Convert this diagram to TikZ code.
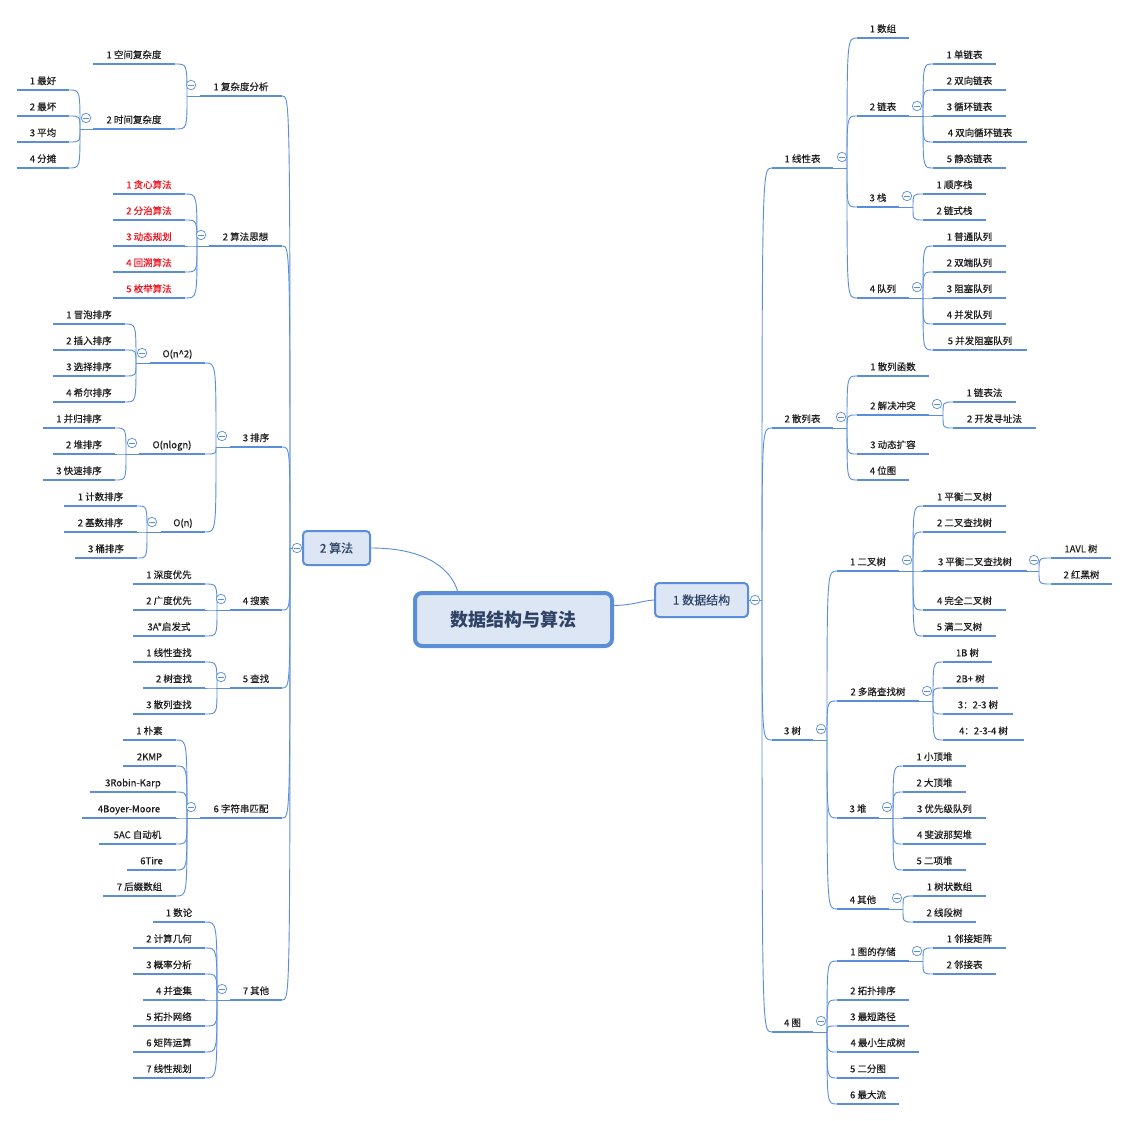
\documentclass[tikz,border=0pt]{standalone}
\usepackage{fontspec}
\setmainfont{Noto Sans CJK SC}
\newfontfamily\lblfont{Noto Sans CJK SC}[FakeBold=0.3]
\definecolor{lc}{HTML}{5A8ED8}
\definecolor{boxfill}{HTML}{DCE6F4}
\definecolor{boxtext}{HTML}{2F4366}
\definecolor{redt}{HTML}{F0141E}
\definecolor{txt}{HTML}{1E1E1E}
\tikzset{
 lbl/.style={inner xsep=0pt, inner ysep=3.5pt, text height=7.5pt, text depth=2pt, font=\lblfont\fontsize{9.5}{11}\selectfont, text=txt},
 redlbl/.style={text=redt},
 ul/.style={draw=lc, line width=2.8pt},
 cn/.style={draw=lc, line width=0.9pt},
 mc/.style={circle, draw=lc, fill=white, line width=0.7pt, minimum size=9.5pt, inner sep=0pt,
   path picture={\draw[lc,line width=0.7pt] ([xshift=-2.6pt]path picture bounding box.center) -- ([xshift=2.6pt]path picture bounding box.center);}},
 topic/.style={draw=lc, fill=boxfill, rounded corners=4pt, line width=2pt, text=boxtext, font=\lblfont\fontsize{12}{14}\selectfont, inner sep=0pt},
 central/.style={draw=lc, fill=boxfill, rounded corners=7pt, line width=4pt, text=boxtext, font=\fontsize{18}{20}\selectfont\bfseries, inner sep=0pt},
}
% node with underline: [style]{name}{x1}{x2}{y}{text}
\newcommand\mmn[6][]{\node[lbl,#1,minimum width={(#4)-(#3)},anchor=south] (#2) at ({((#3)+(#4))/2},#5) {#6};
 \draw[ul] (#2.south west) -- (#2.south east);}
% connectors from fork to child (right side / left side)
\newcommand\fr[2]{\draw[cn] (#1) .. controls (#1 |- #2.south west) .. (#2.south west);}
\newcommand\fl[2]{\draw[cn] (#1) .. controls (#1 |- #2.south east) .. (#2.south east);}
\begin{document}
\begin{tikzpicture}[x=1pt,y=-1pt]
\fill[white] (0,0) rectangle (1130,1121);
\useasboundingbox (0,0) rectangle (1130,1121);

% ---------------- central ----------------
\node[central,minimum width=197,minimum height=53] (cen) at (513.5,619.5) {数据结构与算法};
\node[topic,minimum width=67,minimum height=34] (alg) at (336.5,548) {2 算法};
\node[topic,minimum width=93,minimum height=34] (ds) at (701.5,600) {1 数据结构};
\draw[cn] (alg.east) .. controls (430,548) and (452,572) .. ([xshift=-56pt]cen.north);
\draw[cn] ([yshift=14pt]cen.east) .. controls (635,605) and (640,601) .. (ds.west);

% ---------------- left: 2 算法 ----------------
\coordinate (algf) at (290,548);
\draw[cn] (alg.west) -- (algf);
\mmn{a1}{200}{282}{96}{1 复杂度分析}
\mmn{a2}{209}{282}{246}{2 算法思想}
\mmn{a3}{230}{282}{447}{3 排序}
\mmn{a4}{230}{282}{610}{4 搜索}
\mmn{a5}{230}{282}{688}{5 查找}
\mmn{a6}{200}{282}{818}{6 字符串匹配}
\mmn{a7}{230}{282}{1000}{7 其他}
\foreach \c in {a1,a2,a3,a4,a5,a6,a7} {\fl{algf}{\c}}

% a1
\coordinate (a1f) at (187,96);
\draw[cn] (a1.south west) -- (a1f);
\mmn{a11}{93}{175}{64}{1 空间复杂度}
\mmn{a12}{93}{175}{129}{2 时间复杂度}
\fl{a1f}{a11}\fl{a1f}{a12}
\coordinate (a12f) at (80,129);
\draw[cn] (a12.south west) -- (a12f);
\mmn{a121}{17}{69}{90}{1 最好}
\mmn{a122}{17}{69}{116}{2 最坏}
\mmn{a123}{17}{69}{142}{3 平均}
\mmn{a124}{17}{69}{168}{4 分摊}
\foreach \c in {a121,a122,a123,a124} {\fl{a12f}{\c}}

% a2
\coordinate (a2f) at (197,246);
\draw[cn] (a2.south west) -- (a2f);
\mmn[redlbl]{a21}{113}{185}{194}{1 贪心算法}
\mmn[redlbl]{a22}{113}{185}{220}{2 分治算法}
\mmn[redlbl]{a23}{113}{185}{246}{3 动态规划}
\mmn[redlbl]{a24}{113}{185}{272}{4 回溯算法}
\mmn[redlbl]{a25}{113}{185}{298}{5 枚举算法}
\foreach \c in {a21,a22,a23,a24,a25} {\fl{a2f}{\c}}

% a3
\coordinate (a3f) at (216,447);
\draw[cn] (a3.south west) -- (a3f);
\mmn{a31}{150}{205}{363}{O(n\textasciicircum 2)}
\mmn{a32}{139}{205}{454}{O(nlogn)}
\mmn{a33}{161}{205}{532}{O(n)}
\foreach \c in {a31,a32,a33} {\fl{a3f}{\c}}
\coordinate (a31f) at (136,363);
\draw[cn] (a31.south west) -- (a31f);
\mmn{a311}{53}{125}{324}{1 冒泡排序}
\mmn{a312}{53}{125}{350}{2 插入排序}
\mmn{a313}{53}{125}{376}{3 选择排序}
\mmn{a314}{53}{125}{402}{4 希尔排序}
\foreach \c in {a311,a312,a313,a314} {\fl{a31f}{\c}}
\coordinate (a32f) at (126,454);
\draw[cn] (a32.south west) -- (a32f);
\mmn{a321}{43}{115}{428}{1 并归排序}
\mmn{a322}{53}{115}{454}{2 堆排序}
\mmn{a323}{43}{115}{480}{3 快速排序}
\foreach \c in {a321,a322,a323} {\fl{a32f}{\c}}
\coordinate (a33f) at (147,532);
\draw[cn] (a33.south west) -- (a33f);
\mmn{a331}{64}{137}{506}{1 计数排序}
\mmn{a332}{64}{137}{532}{2 基数排序}
\mmn{a333}{75}{137}{558}{3 桶排序}
\foreach \c in {a331,a332,a333} {\fl{a33f}{\c}}

% a4
\coordinate (a4f) at (217,610);
\draw[cn] (a4.south west) -- (a4f);
\mmn{a41}{133}{205}{584}{1 深度优先}
\mmn{a42}{133}{205}{610}{2 广度优先}
\mmn{a43}{133}{205}{636}{3A*启发式}
\foreach \c in {a41,a42,a43} {\fl{a4f}{\c}}

% a5
\coordinate (a5f) at (217,688);
\draw[cn] (a5.south west) -- (a5f);
\mmn{a51}{133}{205}{662}{1 线性查找}
\mmn{a52}{143}{205}{688}{2 树查找}
\mmn{a53}{133}{205}{714}{3 散列查找}
\foreach \c in {a51,a52,a53} {\fl{a5f}{\c}}

% a6
\coordinate (a6f) at (187,818);
\draw[cn] (a6.south west) -- (a6f);
\mmn{a61}{123}{176}{740}{1 朴素}
\mmn{a62}{123}{176}{766}{2KMP}
\mmn{a63}{90}{176}{792}{3Robin-Karp}
\mmn{a64}{82}{176}{818}{4Boyer-Moore}
\mmn{a65}{99}{176}{844}{5AC 自动机}
\mmn{a66}{127}{176}{870}{6Tire}
\mmn{a67}{103}{176}{896}{7 后缀数组}
\foreach \c in {a61,a62,a63,a64,a65,a66,a67} {\fl{a6f}{\c}}

% a7
\coordinate (a7f) at (217,1000);
\draw[cn] (a7.south west) -- (a7f);
\mmn{a71}{153}{205}{922}{1 数论}
\mmn{a72}{133}{205}{948}{2 计算几何}
\mmn{a73}{133}{205}{974}{3 概率分析}
\mmn{a74}{143}{205}{1000}{4 并查集}
\mmn{a75}{133}{205}{1026}{5 拓扑网络}
\mmn{a76}{133}{205}{1052}{6 矩阵运算}
\mmn{a77}{133}{205}{1078}{7 线性规划}
\foreach \c in {a71,a72,a73,a74,a75,a76,a77} {\fl{a7f}{\c}}

% ---------------- right: 1 数据结构 ----------------
\coordinate (dsf) at (762,600);
\draw[cn] (ds.east) -- (dsf);
\mmn{b1}{772}{833}{168}{1 线性表}
\mmn{b2}{772}{833}{428}{2 散列表}
\mmn{b3}{772}{813}{740}{3 树}
\mmn{b4}{772}{813}{1032}{4 图}
\foreach \c in {b1,b2,b3,b4} {\fr{dsf}{\c}}

% b1
\coordinate (b1f) at (847,168);
\draw[cn] (b1.south east) -- (b1f);
\mmn{b11}{857}{909}{38}{1 数组}
\mmn{b12}{857}{909}{116}{2 链表}
\mmn{b13}{857}{899}{207}{3 栈}
\mmn{b14}{857}{909}{298}{4 队列}
\foreach \c in {b11,b12,b13,b14} {\fr{b1f}{\c}}
\coordinate (b12f) at (923,116);
\draw[cn] (b12.south east) -- (b12f);
\mmn{b121}{933}{996}{64}{1 单链表}
\mmn{b122}{933}{1006}{90}{2 双向链表}
\mmn{b123}{933}{1006}{116}{3 循环链表}
\mmn{b124}{933}{1027}{142}{4 双向循环链表}
\mmn{b125}{933}{1006}{168}{5 静态链表}
\foreach \c in {b121,b122,b123,b124,b125} {\fr{b12f}{\c}}
\coordinate (b13f) at (913,207);
\draw[cn] (b13.south east) -- (b13f);
\mmn{b131}{923}{986}{194}{1 顺序栈}
\mmn{b132}{923}{986}{220}{2 链式栈}
\foreach \c in {b131,b132} {\fr{b13f}{\c}}
\coordinate (b14f) at (923,298);
\draw[cn] (b14.south east) -- (b14f);
\mmn{b141}{933}{1006}{246}{1 普通队列}
\mmn{b142}{933}{1006}{272}{2 双端队列}
\mmn{b143}{933}{1006}{298}{3 阻塞队列}
\mmn{b144}{933}{1006}{324}{4 并发队列}
\mmn{b145}{933}{1027}{350}{5 并发阻塞队列}
\foreach \c in {b141,b142,b143,b144,b145} {\fr{b14f}{\c}}

% b2
\coordinate (b2f) at (847,428);
\draw[cn] (b2.south east) -- (b2f);
\mmn{b21}{857}{929}{376}{1 散列函数}
\mmn{b22}{857}{929}{415}{2 解决冲突}
\mmn{b23}{857}{929}{454}{3 动态扩容}
\mmn{b24}{857}{909}{480}{4 位图}
\foreach \c in {b21,b22,b23,b24} {\fr{b2f}{\c}}
\coordinate (b22f) at (943,415);
\draw[cn] (b22.south east) -- (b22f);
\mmn{b221}{953}{1016}{402}{1 链表法}
\mmn{b222}{953}{1036}{428}{2 开发寻址法}
\foreach \c in {b221,b222} {\fr{b22f}{\c}}

% b3
\coordinate (b3f) at (827,740);
\draw[cn] (b3.south east) -- (b3f);
\mmn{b31}{837}{899}{571}{1 二叉树}
\mmn{b32}{837}{919}{701}{2 多路查找树}
\mmn{b33}{837}{879}{818}{3 堆}
\mmn{b34}{837}{889}{909}{4 其他}
\foreach \c in {b31,b32,b33,b34} {\fr{b3f}{\c}}
\coordinate (b31f) at (913,571);
\draw[cn] (b31.south east) -- (b31f);
\mmn{b311}{923}{1006}{506}{1 平衡二叉树}
\mmn{b312}{923}{1006}{532}{2 二叉查找树}
\mmn{b313}{923}{1027}{571}{3 平衡二叉查找树}
\mmn{b314}{923}{1006}{610}{4 完全二叉树}
\mmn{b315}{923}{996}{636}{5 满二叉树}
\foreach \c in {b311,b312,b313,b314,b315} {\fr{b31f}{\c}}
\coordinate (b313f) at (1039,571);
\draw[cn] (b313.south east) -- (b313f);
\mmn{b3131}{1051}{1111}{558}{1AVL 树}
\mmn{b3132}{1051}{1112}{584}{2 红黑树}
\foreach \c in {b3131,b3132} {\fr{b313f}{\c}}
\coordinate (b32f) at (933,701);
\draw[cn] (b32.south east) -- (b32f);
\mmn{b321}{943}{992}{662}{1B 树}
\mmn{b322}{943}{998}{688}{2B+ 树}
\mmn{b323}{943}{1013}{714}{3：2-3 树}
\mmn{b324}{943}{1024}{740}{4：2-3-4 树}
\foreach \c in {b321,b322,b323,b324} {\fr{b32f}{\c}}
\coordinate (b33f) at (893,818);
\draw[cn] (b33.south east) -- (b33f);
\mmn{b331}{903}{966}{766}{1 小顶堆}
\mmn{b332}{903}{966}{792}{2 大顶堆}
\mmn{b333}{903}{986}{818}{3 优先级队列}
\mmn{b334}{903}{986}{844}{4 斐波那契堆}
\mmn{b335}{903}{966}{870}{5 二项堆}
\foreach \c in {b331,b332,b333,b334,b335} {\fr{b33f}{\c}}
\coordinate (b34f) at (903,909);
\draw[cn] (b34.south east) -- (b34f);
\mmn{b341}{913}{986}{896}{1 树状数组}
\mmn{b342}{913}{976}{922}{2 线段树}
\foreach \c in {b341,b342} {\fr{b34f}{\c}}

% b4
\coordinate (b4f) at (827,1032);
\draw[cn] (b4.south east) -- (b4f);
\mmn{b41}{837}{909}{961}{1 图的存储}
\mmn{b42}{837}{909}{1000}{2 拓扑排序}
\mmn{b43}{837}{909}{1026}{3 最短路径}
\mmn{b44}{837}{919}{1052}{4 最小生成树}
\mmn{b45}{837}{899}{1078}{5 二分图}
\mmn{b46}{837}{899}{1104}{6 最大流}
\foreach \c in {b41,b42,b43,b44,b45,b46} {\fr{b4f}{\c}}
\coordinate (b41f) at (923,961);
\draw[cn] (b41.south east) -- (b41f);
\mmn{b411}{933}{1006}{948}{1 邻接矩阵}
\mmn{b412}{933}{996}{974}{2 邻接表}
\foreach \c in {b411,b412} {\fr{b41f}{\c}}

% ---------------- collapse markers ----------------
\node[mc] (algc) at (297,548) {};
\node[mc] (dsc) at (755,600) {};
\node[mc] (a1c) at (191,85) {};
\node[mc] (a12c) at (86,118) {};
\node[mc] (a2c) at (201,235) {};
\node[mc] (a3c) at (222,436) {};
\node[mc] (a31c) at (142,353) {};
\node[mc] (a32c) at (132,443) {};
\node[mc] (a33c) at (152,522) {};
\node[mc] (a4c) at (221,599) {};
\node[mc] (a5c) at (221,677) {};
\node[mc] (a6c) at (191,807) {};
\node[mc] (a7c) at (222,989) {};
\node[mc] (b1c) at (842,157) {};
\node[mc] (b12c) at (917,106) {};
\node[mc] (b13c) at (907,196) {};
\node[mc] (b14c) at (917,287) {};
\node[mc] (b2c) at (841,417) {};
\node[mc] (b22c) at (937,404) {};
\node[mc] (b3c) at (821,729) {};
\node[mc] (b31c) at (907,560) {};
\node[mc] (b313c) at (1034,560) {};
\node[mc] (b32c) at (927,691) {};
\node[mc] (b33c) at (887,807) {};
\node[mc] (b34c) at (897,898) {};
\node[mc] (b4c) at (821,1021) {};
\node[mc] (b41c) at (917,951) {};
\end{tikzpicture}
\end{document}
